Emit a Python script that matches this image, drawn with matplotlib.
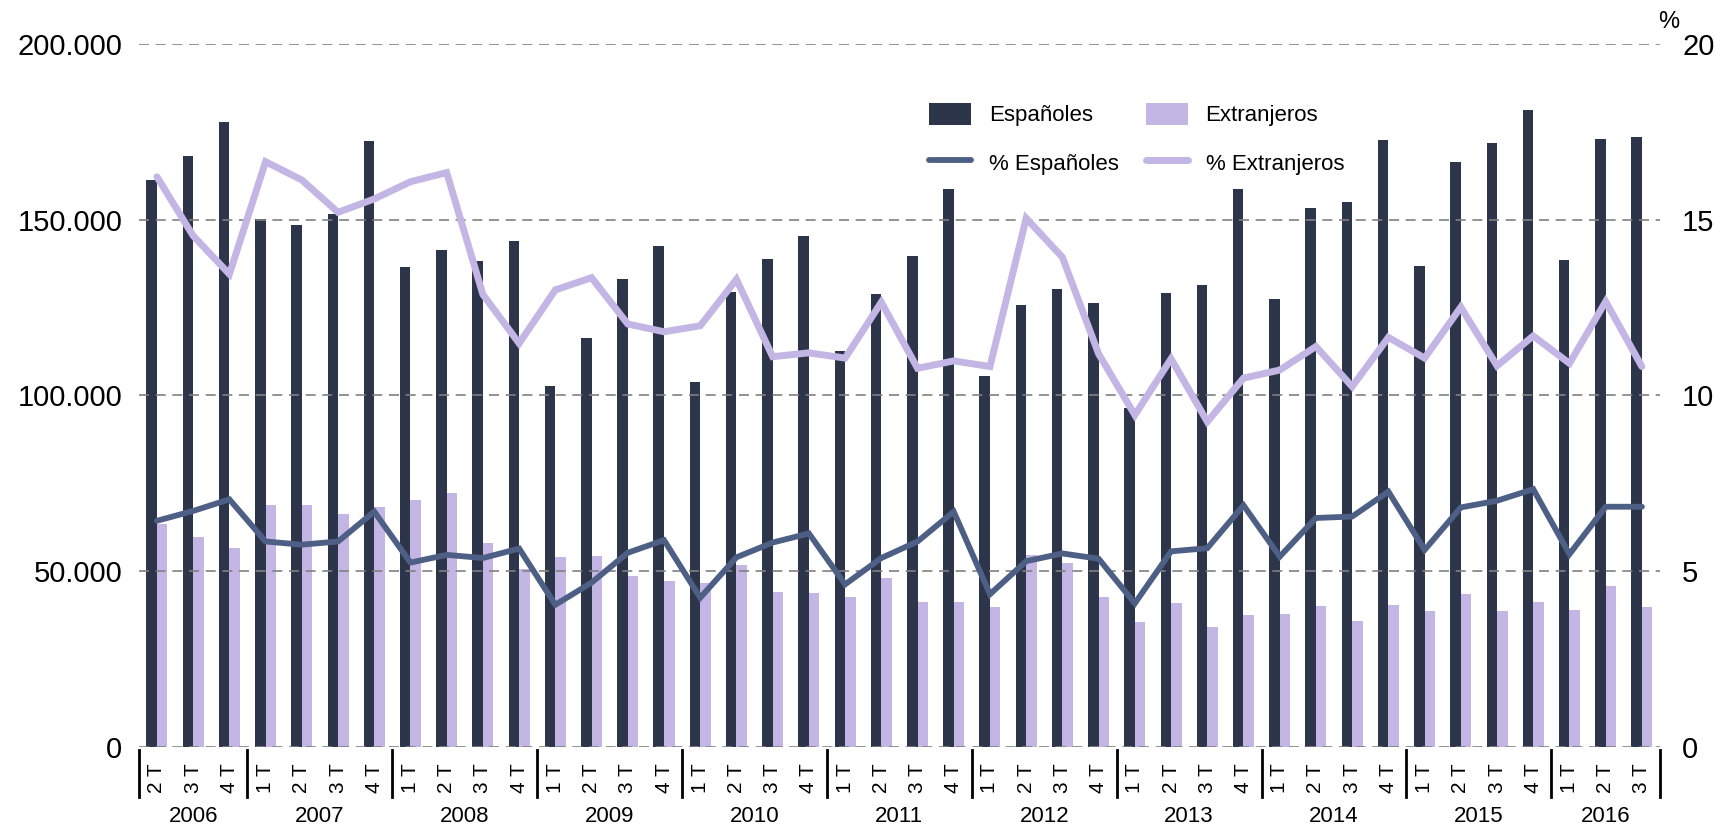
import numpy as np
import matplotlib
matplotlib.use("Agg")
import matplotlib.pyplot as plt
from matplotlib.ticker import FuncFormatter

plt.rcParams['font.family'] = ['Liberation Sans', 'DejaVu Sans']

# Data
YEARS = ['2006', '2007', '2008', '2009', '2010', '2011',
         '2012', '2013', '2014', '2015', '2016']
QUARTERS = (['2 T', '3 T', '4 T'] + ['1 T', '2 T', '3 T', '4 T'] * 9
            + ['1 T', '2 T', '3 T'])

espanoles = [161300, 168100, 177800, 150200, 148500, 151600, 172400, 136600,
             141400, 138300, 144000, 102800, 116400, 133200, 142500, 103900,
             129500, 138800, 145400, 112700, 128900, 139700, 158700, 105600,
             125800, 130300, 126300, 96400, 129200, 131500, 158700, 127500,
             153300, 155000, 172700, 136900, 166400, 171800, 181200, 138600,
             172900, 173500]
extranjeros = [63500, 59600, 56500, 68900, 68700, 66100, 68300, 70100,
               72300, 57900, 50500, 53900, 54200, 48700, 47100, 46500,
               51600, 44000, 43700, 42600, 48000, 41300, 41100, 39900,
               54600, 52200, 42500, 35400, 40800, 34000, 37400, 37900,
               40000, 35800, 40200, 38500, 43600, 38600, 41300, 39000,
               45600, 39700]
pct_esp = [6.43, 6.71, 7.04, 5.84, 5.75, 5.84, 6.69, 5.24, 5.46, 5.37, 5.64,
           4.04, 4.67, 5.52, 5.88, 4.24, 5.39, 5.81, 6.07, 4.62, 5.37, 5.84,
           6.69, 4.34, 5.28, 5.50, 5.35, 4.08, 5.56, 5.65, 6.87, 5.41, 6.51,
           6.55, 7.26, 5.60, 6.81, 7.00, 7.33, 5.48, 6.83, 6.83]
pct_ext = [16.22, 14.54, 13.45, 16.65, 16.13, 15.21, 15.59, 16.08, 16.34,
           12.87, 11.48, 13.00, 13.35, 12.03, 11.81, 11.98, 13.30, 11.10,
           11.21, 11.06, 12.65, 10.77, 10.98, 10.82, 15.04, 13.93, 11.18,
           9.44, 11.04, 9.25, 10.49, 10.72, 11.39, 10.25, 11.65, 11.06,
           12.51, 10.84, 11.69, 10.91, 12.67, 10.82]

DARK = '#2c3549'
LILAC = '#c3b6e5'
BLUE = '#4e5f85'

x = np.arange(len(QUARTERS))
w = 0.29

fig = plt.figure(figsize=(17.14, 8.27), dpi=100)
ax = fig.add_axes([0.081, 0.0971, 0.8875, 0.8497])
ax2 = ax.twinx()

ax.bar(x - w / 2, espanoles, w, color=DARK, label='Españoles', zorder=1)
ax.bar(x + w / 2, extranjeros, w, color=LILAC, label='Extranjeros', zorder=1)
ax2.plot(x, pct_esp, color=BLUE, lw=4.2, solid_capstyle='round',
         solid_joinstyle='miter', label='% Españoles')
ax2.plot(x, pct_ext, color=LILAC, lw=5, solid_capstyle='round',
         solid_joinstyle='miter', label='% Extranjeros')

ax.set_xlim(-0.5, len(QUARTERS) - 0.5)
ax.set_ylim(0, 200000)
ax2.set_ylim(0, 20)
ax.set_yticks(np.arange(0, 200001, 50000))
ax2.set_yticks(np.arange(0, 21, 5))
ax.yaxis.set_major_formatter(FuncFormatter(lambda v, p: f'{int(v):,}'.replace(',', '.')))

ax.set_axisbelow(False)
ax.yaxis.grid(True, linestyle=(0, (6, 4)), color='#808080', lw=1.2)

for a in (ax, ax2):
    for s in a.spines.values():
        s.set_visible(False)
ax.tick_params(axis='y', length=0, pad=12, labelsize=21)
ax2.tick_params(axis='y', length=0, pad=16, labelsize=21)

ax.set_xticks(x)
ax.set_xticklabels(QUARTERS, rotation=90, fontsize=15)
ax.tick_params(axis='x', length=0, pad=12)

# year separators and labels
starts = [0] + [i for i, q in enumerate(QUARTERS) if q == '1 T']
ends = starts[1:] + [len(QUARTERS)]
trans = ax.get_xaxis_transform()
for s in starts + [len(QUARTERS)]:
    ax.plot([s - 0.5, s - 0.5], [-0.004, -0.072], color='black', lw=2,
            transform=trans, clip_on=False)
for yr, s, e in zip(YEARS, starts, ends):
    ax.text((s + e - 1) / 2, -0.099, yr, transform=trans, ha='center',
            va='center', fontsize=16)

fig.text(0.9735, 0.973, '%', ha='center', va='center', fontsize=17)

h1, l1 = ax.get_legend_handles_labels()
h2, l2 = ax2.get_legend_handles_labels()
fig.legend([h1[0], h2[0], h1[1], h2[1]], [l1[0], l2[0], l1[1], l2[1]],
           ncol=2, loc='upper left', bbox_to_anchor=(0.542, 0.876),
           frameon=False, fontsize=16, borderpad=0, borderaxespad=0,
           handlelength=1.9, handleheight=1.2, handletextpad=0.8,
           columnspacing=1.2, labelspacing=1.1)

fig.savefig('out.png', dpi=100)
